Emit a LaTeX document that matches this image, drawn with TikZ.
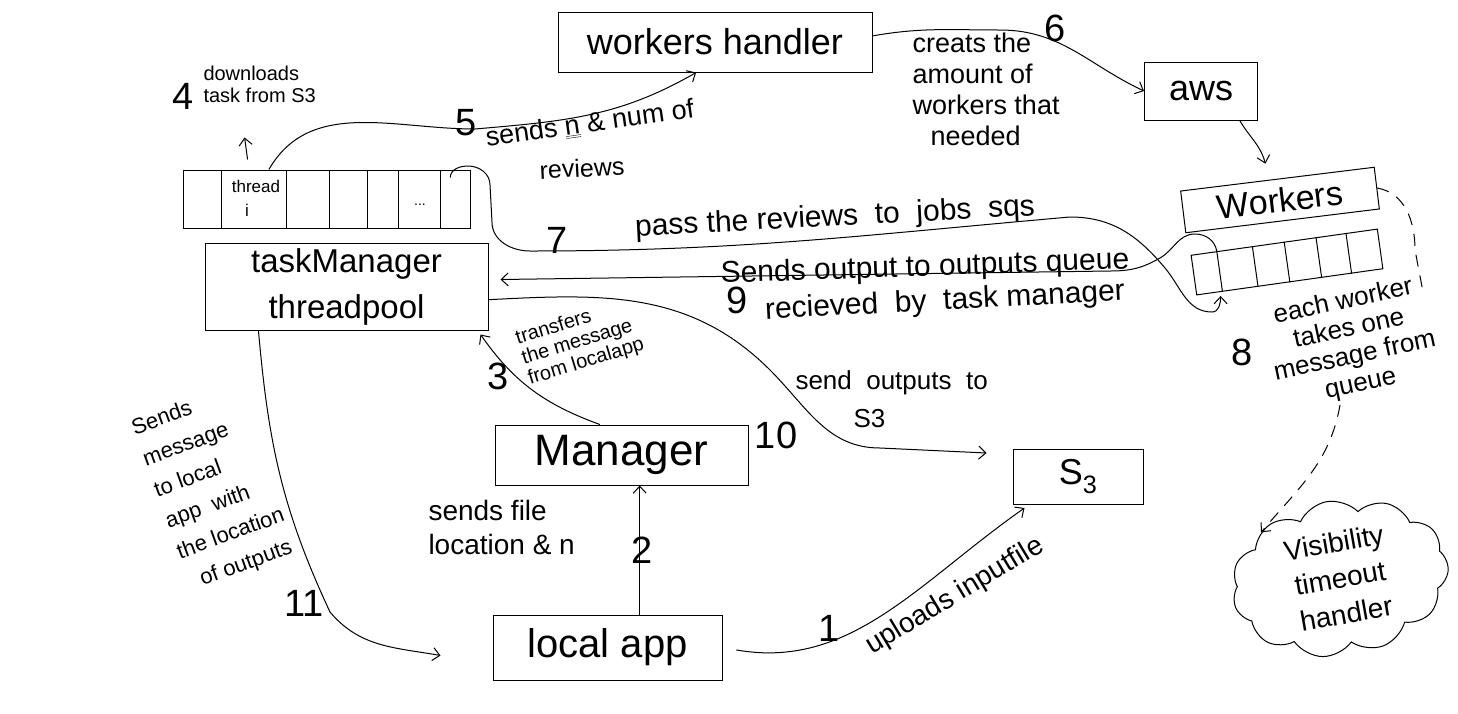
\documentclass[tikz,border=0pt]{standalone}
\usepackage{fontspec}
\setmainfont{Liberation Sans}
\usetikzlibrary{arrows.meta,calc,shapes.symbols}
\newcommand\fsz[2]{\fontsize{#1}{#2}\selectfont}
\begin{document}
\begin{tikzpicture}[x=1pt,y=-1pt,line width=1pt,
  box/.style={draw,rectangle,inner sep=0pt},
  arr/.style={-{Straight Barb[length=7pt,width=13pt]}},
  num/.style={inner sep=0pt,font=\fsz{38}{40}},
  lab/.style={inner sep=0pt,align=left},
  dsh/.style={dashed,dash pattern=on 12pt off 9pt},
]
\fill[white] (0,0) rectangle (1458,713);
\useasboundingbox (0,0) rectangle (1458,713);

% ---------- boxes ----------
\node[box,minimum width=314,minimum height=60,font=\fsz{36}{40}] (wh) at (715,42) {workers handler};
\node[box,minimum width=113,minimum height=58,font=\fsz{36}{40}] (aws) at (1201,91) {aws};
\node[box,minimum width=195,minimum height=42,rotate=7,font=\fsz{34}{38}] (wk) at (1280,200) {Workers};
\node[box,minimum width=188,minimum height=40,rotate=8] (q) at (1287,262) {};
\foreach \f in {.14,.33,.50,.67,.83}
  \draw ($(q.south west)!\f!(q.south east)$) -- ($(q.north west)!\f!(q.north east)$);
\node[box,minimum width=287,minimum height=58] (arr) at (326.5,199) {};
\foreach \f in {.136,.362,.512,.641,.749,.895}
  \draw ($(arr.south west)!\f!(arr.south east)$) -- ($(arr.north west)!\f!(arr.north east)$);
\node[lab,font=\fsz{17}{19}] (thr) at (256,186) {thread};
\node[lab,font=\fsz{17}{19}] (thi) at (247,210) {i};
\node[lab,font=\fsz{14}{16}] (dots) at (420,205) {...};
\node[box,minimum width=283,minimum height=87,align=center,font=\fsz{33}{46}] (tm) at (346.5,286.5) {taskManager\\threadpool};
\node[box,minimum width=253,minimum height=60,font=\fsz{44}{46}] (mgr) at (621.5,455) {Manager};
\node[box,minimum width=229,minimum height=65,font=\fsz{40}{44}] (la) at (607.5,647.5) {local app};
\node[box,minimum width=130,minimum height=55,font=\fsz{36}{40}] (s3) at (1078,477) {S\textsubscript{3}};
\node[cloud,draw,cloud puffs=11,cloud puff arc=110,aspect=1.4,minimum width=218,minimum height=155,inner sep=0pt,align=center,rotate=10,font=\fsz{28}{36}] (cl) at (1340,578) {Visibility\\timeout\\handler};

% ---------- numbers ----------
\node[num] (n1) at (829,628) {1};
\node[num] (n2) at (642,550) {2};
\node[num] (n3) at (498,376) {3};
\node[num] (n4) at (183,96) {4};
\node[num] (n5) at (466,123) {5};
\node[num] (n6) at (1055,28) {6};
\node[num] (n7) at (557,240) {7};
\node[num] (n8) at (1242,352) {8};
\node[num] (n9) at (737,300) {9};
\node[num] (n10) at (776,435) {10};
\node[num] (n11) at (304,603) {11};

% ---------- labels ----------
\node[lab,anchor=north west,font=\fsz{20}{22}] (l4) at (203,66) {downloads\\task from S3};
\node[lab,rotate=8,font=\fsz{27}{30}] (l5a) at (590,124) {sends \underline{\underline{n}} \& num of};
\node[lab,rotate=3,font=\fsz{25}{28}] (l5b) at (582,168) {reviews};
\node[lab,anchor=north west,font=\fsz{27}{31}] (l6) at (912,32) {creats the\\amount of\\workers that\\\hspace{18pt}needed};
\node[lab,rotate=3,font=\fsz{30}{32}] (l7) at (835,218) {pass the reviews\ \ to\ \ jobs\ \ sqs};
\node[lab,rotate=2,font=\fsz{30}{32}] (l9a) at (925,268) {Sends output to outputs queue};
\node[lab,rotate=3,font=\fsz{30}{32}] (l9b) at (945,302) {recieved\ \ by\ \ task manager};
\node[lab,rotate=17,font=\fsz{20}{21}] (l3) at (580,342) {transfers\\the message\\from localapp};
\node[lab,anchor=north west,font=\fsz{26}{38}] (l10) at (795,370) {send\ \ outputs\ \ to\\\hspace{58pt}S3};
\node[lab,anchor=north west,font=\fsz{28}{34}] (l2) at (428,500) {sends file\\location \& n};
\node[lab,rotate=20,font=\fsz{22}{33}] (l11) at (214,488) {Sends\\message\\to local\\app\ \ with\\the location\\\ \ of outputs};
\node[lab,rotate=12,align=center,font=\fsz{26}{28}] (l8) at (1352,343) {each worker\\takes one\\message from\\queue};
\node[lab,rotate=31,font=\fsz{28}{30}] (l1) at (955,596) {uploads inputfile};

% ---------- connectors ----------
% 4
\draw[arr] ($(arr.north west)!.226!(arr.north east)+(0,-10)$) coordinate (a4) -- ++(-3,-22) coordinate (b4);
% 5
\draw[arr] ($(arr.north west)!.3!(arr.north east)$) to[out=60,in=180] (475,129)
  to[out=5,in=-150] ($(wh.south west)!.44!(wh.south east)$);
% 6
\draw[arr] ($(wh.north east)!.4!(wh.south east)$) to[out=10,in=180] (1000,30)
  to[out=0,in=155] (aws.west);
% aws -> workers
\draw[arr] ($(aws.south east)!.16!(aws.south west)$) to[out=-60,in=105] ($(wk.north)+(-12,-15)$);
% 7
\draw[arr] ($(arr.north west)!.93!(arr.north east)+(0,8)$) to[out=90,in=180] (468,166)
  to[out=0,in=90] (490,185) -- (492,222) to[out=-90,in=180] (530,251)
  to[out=0,in=-175] (1070,217) to[out=0,in=130] (1165,268)
  to[out=-50,in=180] (1212,312) to[out=0,in=-90] ($(q.south west)!.13!(q.south east)+(0,4)$);
% 9
\draw[arr] ($(q.north west)!.14!(q.north east)$) to[out=100,in=0] (1195,234)
  to[out=180,in=30] (1160,258) to[out=-150,in=0] (1110,271)
  -- ($(tm.east)+(12,-7)$);
% 3
\draw[arr] ($(mgr.north west)!.415!(mgr.north east)$) to[out=160,in=-55] ($(tm.south east)+(-8,4)$);
% 10
\draw[arr] ($(tm.south east)!.35!(tm.north east)$) to[out=3,in=135] (770,370)
  to[out=-45,in=180] (880,448) -- ($(s3.north west)+(-26,4)$);
% 2
\coordinate (s2) at ($(la.north west)!.64!(la.north east)$);
\draw[arr] (s2) -- (s2 |- mgr.south);
% 1
\draw[arr,shorten <=14pt] (la.east) to[out=-10,in=-145] ($(s3.south west)+(12,3)$);
% 11
\draw[arr] ($(tm.south west)!.19!(tm.south east)$) to[out=-85,in=115] (330,612)
  to[out=-50,in=170] ($(la.west)+(-52,8)$);
% 8 dashed
\draw[dsh] (wk.east) to[out=-10,in=90] (1415,250) -- (1423,292);
\coordinate (d8) at (1340,405);
\draw[dsh,arr] (d8) to[out=-100,in=50] (cl.140);
\end{tikzpicture}
\end{document}
